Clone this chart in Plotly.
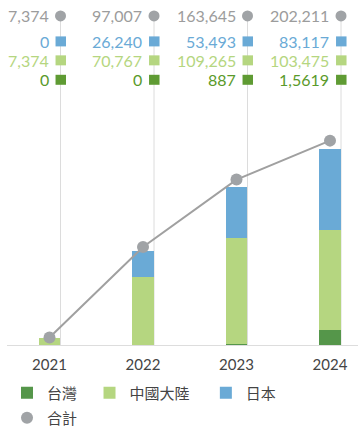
import plotly.graph_objects as go

years = ["2021", "2022", "2023", "2024"]
taiwan = [0, 0, 887, 15619]
china = [7374, 70767, 109265, 103475]
japan = [0, 26240, 53493, 83117]
total = [7374, 97007, 163645, 202211]

# labels as printed in the header table of the original
total_labels = ["7,374", "97,007", "163,645", "202,211"]
japan_labels = ["0", "26,240", "53,493", "83,117"]
china_labels = ["7,374", "70,767", "109,265", "103,475"]
taiwan_labels = ["0", "0", "887", "1,5619"]

C_TW = "#55964a"
C_TW_ICON = "#5f9b33"
C_CN = "#b5d680"
C_JP = "#6aaad6"
C_TOT = "#a0a3a6"
C_LINE = "#a0a0a0"

FONT = "Lato, 'Noto Sans CJK TC', sans-serif"

x = list(range(len(years)))
BW = 0.23
GOFF = 0.118  # gridline offset from category centre

fig = go.Figure()
fig.add_bar(x=x, y=taiwan, name="台灣\u2002", marker_color=C_TW, width=BW,
            marker_line_width=0, legend="legend")
fig.add_bar(x=x, y=china, name="中國大陸\u2002\u00a0", marker_color=C_CN, width=BW,
            marker_line_width=0, legend="legend")
fig.add_bar(x=x, y=japan, name="日本", marker_color=C_JP, width=BW,
            marker_line_width=0, legend="legend")
fig.add_scatter(x=x, y=total, mode="lines", line=dict(color=C_LINE, width=2),
                yaxis="y2", showlegend=False, hoverinfo="skip")
fig.add_scatter(x=x, y=total, mode="markers", name="合計",
                marker=dict(color=C_TOT, size=12), yaxis="y2", legend="legend2")

H_PLOT = 336.0
BASE = 346.0


def py(pix):
    return (BASE - pix) / H_PLOT


shapes = []
annotations = []
for i in x:
    gx = i + GOFF
    shapes.append(dict(type="line", xref="x", yref="paper", x0=gx, x1=gx,
                       y0=0, y1=py(16), line=dict(color="#dcdcdc", width=1), layer="below"))

rows = [
    (total_labels, "#9c9c9c", C_TOT, 16, "circle"),
    (japan_labels, C_JP, C_JP, 41.5, "rect"),
    (china_labels, C_CN, C_CN, 60.5, "rect"),
    (taiwan_labels, "#5a9a2a", C_TW_ICON, 80, "rect"),
]
for labels, tcol, icol, ypix, kind in rows:
    for i in x:
        gx = i + GOFF
        if kind == "circle":
            shapes.append(dict(type="circle", xref="x", yref="paper", xsizemode="pixel",
                               ysizemode="pixel", xanchor=gx, yanchor=py(ypix),
                               x0=-5.5, x1=5.5, y0=-5.5, y1=5.5,
                               fillcolor=icol, line=dict(width=0)))
        else:
            shapes.append(dict(type="rect", xref="x", yref="paper", xsizemode="pixel",
                               ysizemode="pixel", xanchor=gx, yanchor=py(ypix),
                               x0=-5, x1=5.5, y0=-5, y1=5,
                               fillcolor=icol, line=dict(width=0)))
        annotations.append(dict(xref="x", yref="paper", x=gx, y=py(ypix), xshift=-11,
                                text=labels[i], showarrow=False, xanchor="right",
                                yanchor="middle", borderpad=0,
                                font=dict(size=16, color=tcol, family=FONT)))

fig.update_layout(
    width=361, height=436,
    margin=dict(l=7, r=3, t=10, b=90),
    paper_bgcolor="white", plot_bgcolor="white",
    barmode="stack",
    font=dict(family=FONT, color="#444444"),
    xaxis=dict(range=[-0.4545, 3.2995], tickvals=x, ticktext=years, showgrid=False,
               zeroline=False, showline=True, linecolor="#dddddd", linewidth=1,
               ticks="", tickfont=dict(size=15, color="#444444"), ticklabelstandoff=6,
               fixedrange=True),
    yaxis=dict(range=[0, 1031 * H_PLOT], visible=False, fixedrange=True),
    yaxis2=dict(range=[0, 986.5 * H_PLOT], visible=False, overlaying="y", fixedrange=True),
    legend=dict(orientation="h", x=0.0, xanchor="left", y=-0.091, yanchor="top",
                traceorder="normal", font=dict(size=15, color="#444444")),
    legend2=dict(orientation="h", x=0.0, xanchor="left", y=-0.1655, yanchor="top",
                 font=dict(size=15, color="#444444")),
    shapes=shapes,
    annotations=annotations,
    showlegend=True,
)

fig.write_html("out.html", config={"displayModeBar": False},
               post_script="document.body.style.margin='0';")
